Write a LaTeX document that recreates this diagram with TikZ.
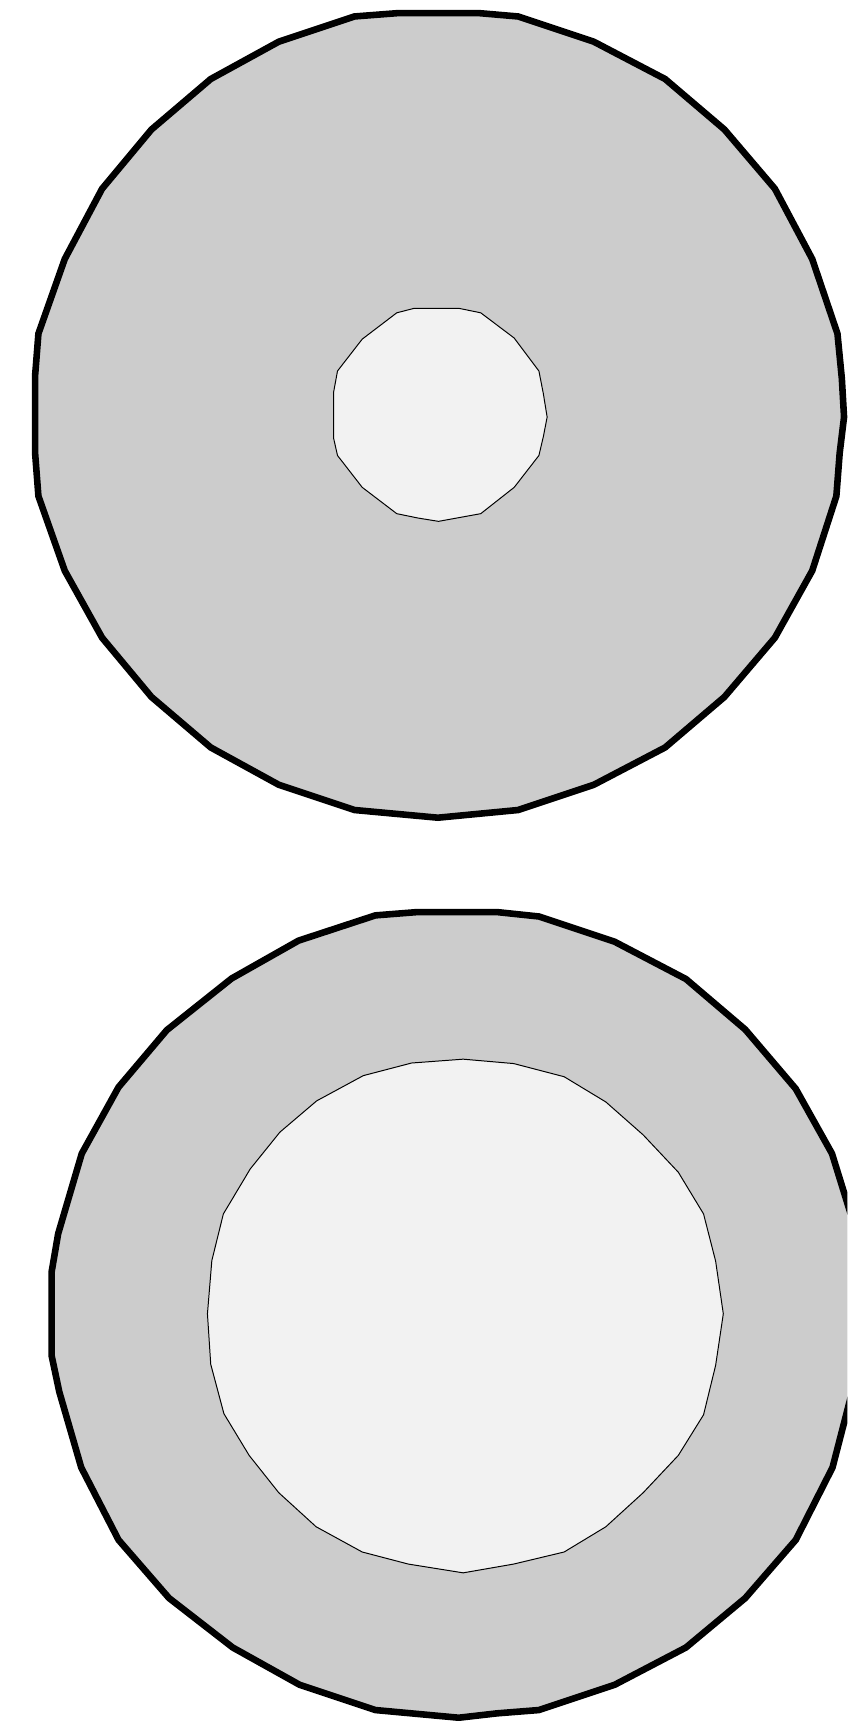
\documentclass[tikz,border=0pt]{standalone}
\usepackage{tikz}

\begin{document}
\begin{tikzpicture}[
  x=0.5pt, y=-0.5pt,
  rim/.style={draw=black, line width=3pt, fill=black!20},
  hole/.style={draw=black, line width=0.45pt, fill=black!5}
]
  \useasboundingbox (0,0) rectangle (772,1568);
  \clip (0,0) rectangle (772,1568);
  % upper disc with small hole
  \draw[rim] (362,12) -- (437,12) -- (472,15) -- (541,38) -- (606,72) -- (660,118) -- (706,172)
    -- (740,236) -- (763,304) -- (767,345) -- (769,380) -- (765,413) -- (762,452) -- (740,520)
    -- (706,581) -- (660,635) -- (606,681) -- (541,715) -- (472,738) -- (399,745) -- (323,738)
    -- (254,715) -- (192,681) -- (138,635) -- (93,581) -- (59,520) -- (35,452) -- (32,413)
    -- (32,342) -- (35,304) -- (59,236) -- (93,172) -- (138,118) -- (192,72) -- (254,38)
    -- (323,15) -- cycle;
  \draw[hole] (377,281) -- (418.5,281) -- (438,285) -- (468.5,308) -- (491,338) -- (495,358.5)
    -- (498.5,380) -- (495,398) -- (491,415) -- (468.5,444) -- (438,468) -- (399.5,475)
    -- (381,472) -- (361.5,468) -- (330,444) -- (307.5,415) -- (304,399.5) -- (304,357)
    -- (307.5,338) -- (330,309) -- (361.5,285) -- cycle;
  % lower disc with large hole (runs past the right edge)
  \draw[rim] (380,831) -- (453,831) -- (491,835) -- (560,858) -- (625,892) -- (679,938)
    -- (725,992) -- (758,1051) -- (784,1135) -- (791,1170) -- (791,1220) -- (781,1250)
    -- (758.5,1337) -- (725,1403) -- (679,1456) -- (625,1501)
    -- (560,1535) -- (491,1558) -- (453,1561) -- (418,1565) -- (342,1558) -- (273,1535)
    -- (212,1501) -- (154,1456) -- (108,1403) -- (74,1337) -- (54,1268) -- (47,1235)
    -- (47,1159) -- (53,1124) -- (74.5,1051) -- (108,990.5) -- (152,938.5) -- (211,891.5)
    -- (272,857) -- (342,834) -- cycle;
  \draw[hole] (375,968.5) -- (422,965) -- (468,969) -- (514,981) -- (552,1004) -- (586,1034)
    -- (618,1068) -- (641,1106) -- (652,1149) -- (659,1197) -- (652,1244) -- (641,1289)
    -- (618,1326) -- (586,1360) -- (552,1391) -- (514,1414) -- (468,1425) -- (422,1433)
    -- (372,1425) -- (330,1414) -- (288,1391) -- (254,1360) -- (227,1326) -- (204,1288)
    -- (192,1243) -- (189,1197) -- (193,1148.5) -- (203.5,1106) -- (228,1065) -- (255,1031.5)
    -- (288.5,1003) -- (331,980) -- cycle;
\end{tikzpicture}
\end{document}
